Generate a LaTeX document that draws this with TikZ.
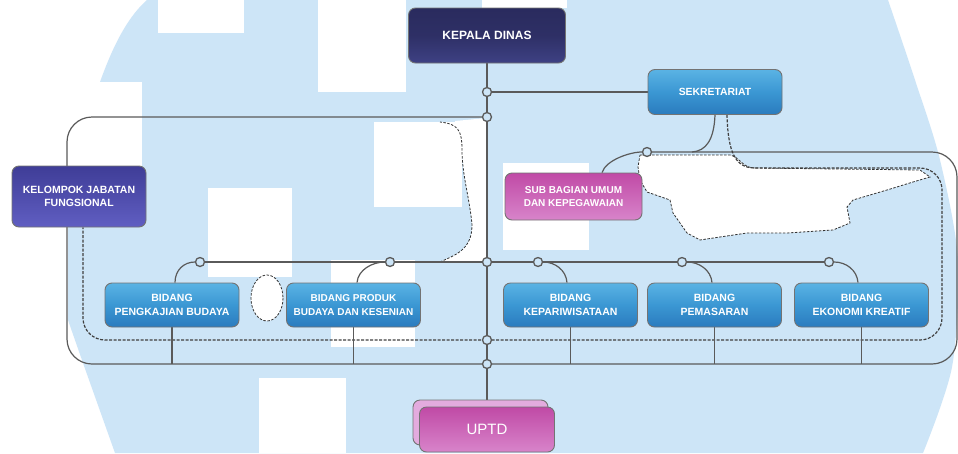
\documentclass[tikz,border=0pt]{standalone}
\usepackage{fontspec}
\setmainfont{Liberation Sans}
\usetikzlibrary{calc}
\definecolor{bgblue}{HTML}{CDE5F7}
\definecolor{linegray}{HTML}{5A5A5A}
\definecolor{blueT}{HTML}{5AB3E4}
\definecolor{blueM}{HTML}{3B97D3}
\definecolor{blueB}{HTML}{2A7BBE}
\definecolor{navyT}{HTML}{2A2B5E}
\definecolor{navyB}{HTML}{3E4184}
\definecolor{violT}{HTML}{3F3D97}
\definecolor{violB}{HTML}{605EC2}
\definecolor{pinkT}{HTML}{C04AA6}
\definecolor{pinkB}{HTML}{D884CA}
\definecolor{pinkBack}{HTML}{E3ABDE}
\pgfdeclarelayer{wm}
\pgfdeclarelayer{lines}
\pgfsetlayers{wm,lines,main}
\tikzset{
  box/.style={draw=black!55, line width=0.9pt, rounded corners=7pt,
    minimum width=134pt, minimum height=44pt, inner sep=1pt, align=center,
    text=white, font=\bfseries\fontsize{10.5}{13.5}\selectfont},
  bluebox/.style={box, top color=blueT, bottom color=blueB, middle color=blueM},
  navybox/.style={box, top color=navyT, bottom color=navyB, middle color=navyT!80!navyB},
  violbox/.style={box, top color=violT, bottom color=violB},
  pinkbox/.style={box, top color=pinkT, bottom color=pinkB},
  jn/.style={circle, draw=linegray, line width=1.3pt, fill=bgblue, minimum size=9pt, inner sep=0pt},
  conn/.style={draw=linegray, line width=1.2pt},
  dconn/.style={draw=black!75, line width=1.2pt, dash pattern=on 3pt off 1.5pt},
  blobline/.style={draw=black!80, line width=0.8pt, dash pattern=on 2.5pt off 1.5pt},
}
\begin{document}
\begin{tikzpicture}[x=1pt,y=-1pt]
\useasboundingbox (0,0) rectangle (958,453);
% ---------- watermark ----------
\begin{pgfonlayer}{wm}
\fill[white] (0,0) rectangle (958,453);
\fill[bgblue] (147,0) -- (888,0) -- plot[smooth] coordinates {(888,0) (915,80) (940,160) (958,260) (952,367) (923,453)}
  -- (115,453) -- (83,363) -- (68,320) -- (68,225) -- (100,225) -- (100,82)
  .. controls (115,40) and (130,15) .. (147,0) -- cycle;
\fill[white] (158,0) rectangle (244,33);
\fill[white] (318,0) rectangle (406,92);
\fill[white] (482,0) rectangle (567,8);
\fill[white] (0,82) rectangle (142,225);
\fill[white] (208,188) rectangle (292,277);
\fill[white] (374,122) rectangle (462,207);
\fill[white] (503,163) rectangle (589,250);
\fill[white] (331,260) rectangle (415,347);
\fill[white] (259,378) rectangle (346,453);
% blobs
\fill[white] (455,121) -- (487,118) -- (487,262) -- (440,262) .. controls (455,255) and (472,250) .. (472,225)
  .. controls (470,200) and (462,175) .. (462,150) -- cycle;
\draw[blobline] (440,262) .. controls (455,255) and (472,250) .. (472,225)
  .. controls (470,200) and (462,175) .. (462,150) .. controls (462,130) and (458,124) .. (440,122);
\filldraw[white, blobline] (640,155) -- (730,155) .. controls (740,157) and (742,168) .. (755,168)
  -- (920,170) -- (930,177) -- (913,182) -- (887,190) -- (853,200) -- (847,207) -- (850,223) -- (833,230)
  -- (787,233) -- (747,233) -- (720,237) -- (700,240) -- (687,233) -- (673,213) -- (670,200)
  -- (647,192) -- (640,180) -- (638,167) -- cycle;
\filldraw[white, blobline] (267,298) ellipse [x radius=16, y radius=23];
\end{pgfonlayer}
% ---------- boxes ----------
\node[navybox, minimum width=157pt, minimum height=55pt, font=\bfseries\fontsize{12}{14}\selectfont] (kd) at (487,35.5) {KEPALA DINAS};
\node[bluebox, minimum height=45pt, font=\bfseries\fontsize{10.4}{13}\selectfont] (sek) at (715,92) {SEKRETARIAT};
\node[violbox, minimum height=61pt] (kjf) at (79,196.5) {KELOMPOK JABATAN\\FUNGSIONAL};
\node[pinkbox, minimum width=137pt, minimum height=47pt, font=\bfseries\fontsize{10}{12.5}\selectfont] (sb) at (573.5,196.5) {SUB BAGIAN UMUM\\DAN KEPEGAWAIAN};
\node[bluebox] (pk) at (172,305) {BIDANG\\PENGKAJIAN BUDAYA};
\node[bluebox, font=\bfseries\fontsize{10}{13.5}\selectfont] (pr) at (353.5,305) {BIDANG PRODUK\\BUDAYA DAN KESENIAN};
\node[bluebox] (kp) at (570.5,305) {BIDANG\\KEPARIWISATAAN};
\node[bluebox] (pm) at (714.5,305) {BIDANG\\PEMASARAN};
\node[bluebox] (ek) at (861.5,305) {BIDANG\\EKONOMI KREATIF};
\node[box, fill=pinkBack, minimum width=135pt, minimum height=45pt] (uptdb) at (480.5,422.5) {};
\node[pinkbox, minimum width=135pt, minimum height=45pt, font=\fontsize{15}{17}\selectfont] (uptd) at (487,429.5) {UPTD};
% ---------- junctions ----------
\node[jn] (j1) at (487,92) {};
\node[jn] (j2) at (487,117) {};
\node[jn] (jrow) at (487,262) {};
\node[jn] (jd) at (487,340) {};
\node[jn] (jb) at (487,364) {};
\node[jn] (jsb) at (647,152) {};
\node[jn] (jr1) at (200,262) {};
\node[jn] (jr2) at (390,262) {};
\node[jn] (jr4) at (538,262) {};
\node[jn] (jr5) at (682,262) {};
\node[jn] (jr6) at (829,262) {};
\coordinate (sekm) at (692,152);
% ---------- connectors ----------
\begin{pgfonlayer}{lines}
\draw[conn] (kd.south) -- (uptdb.north -| kd.south);
\draw[conn] (j1) -- (sek.west);
\draw[conn, rounded corners=25pt] (j2) -- (67,117) -- (67,364) -- (957,364) -- (957,152) -- (jsb);
\draw[conn] (jsb.west) .. controls (630,152) and (606,160) .. ($(sb.north)+(28.5,0)$);
\draw[conn] (sek.south) .. controls (714,140) and (706,151) .. (sekm);
\draw[dconn] ($(sek.south)+(12,0)$) .. controls (728,152) and (735,168) .. (755,168);
\draw[dconn, rounded corners=22pt] (755,168) -- (942,168) -- (942,340) -- (83,340) -- ($(kjf.south)+(4,0)$);
\draw[conn] (jr1) -- (jr6);
\draw[conn] (jr1.west) .. controls (184,262) and (175,270) .. ($(pk.north)+(3,0)$);
\draw[conn] (jr2.west) .. controls (372,262) and (358,270) .. ($(pr.north)+(3.5,0)$);
\draw[conn] (jr4.east) .. controls (555,262) and (566,270) .. ($(kp.north)+(-3.5,0)$);
\draw[conn] (jr5.east) .. controls (699,262) and (711,270) .. ($(pm.north)+(-2.5,0)$);
\draw[conn] (jr6.east) .. controls (846,262) and (857,270) .. ($(ek.north)+(-3.5,0)$);
\foreach \b in {pk,pr,kp,pm,ek} {\draw[conn] (\b.south) -- (\b.south |- jb);}
\end{pgfonlayer}
\end{tikzpicture}
\end{document}
